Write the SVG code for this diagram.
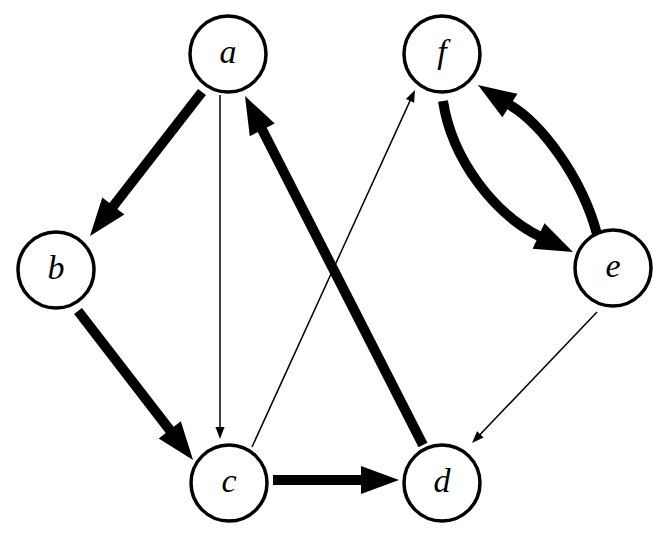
<svg xmlns="http://www.w3.org/2000/svg" xmlns:xlink="http://www.w3.org/1999/xlink" width="663" height="535" viewBox="0 0 663 535">
<style>
.node circle{fill:#fff;stroke:#000;stroke-width:3.5}
.node text{font-family:"Liberation Serif","DejaVu Serif",serif;font-style:italic;font-size:34px;text-anchor:middle;fill:#000}
.thick{fill:none;stroke:#000;stroke-width:10;stroke-linecap:butt}
.thin{fill:none;stroke:#000;stroke-width:1.5;stroke-linecap:butt}
.head{fill:#000;stroke:none}
</style>
<defs>
<path id="hk" d="M0,0 L-38,-14 L-38,14 z"/>
<path id="hn" d="M0,0 L-12,-4.5 L-12,4.5 z"/>
</defs>
<rect width="663" height="535" fill="#fff"/>
<g id="connectors">
<g id="edge-a-b"><line class="thick" x1="202" y1="92" x2="110.9" y2="209.2"/><use class="head" xlink:href="#hk" transform="translate(90,236) rotate(127.9)"/></g>
<g id="edge-b-c"><line class="thick" x1="78" y1="311" x2="172.2" y2="433.1"/><use class="head" xlink:href="#hk" transform="translate(193,460) rotate(52.3)"/></g>
<g id="edge-c-d"><line class="thick" x1="273" y1="480" x2="365" y2="480"/><use class="head" xlink:href="#hk" transform="translate(399,480)"/></g>
<g id="edge-d-a"><line class="thick" x1="423" y1="445" x2="260.4" y2="126.3"/><use class="head" xlink:href="#hk" transform="translate(245,96) rotate(-117)"/></g>
<g id="edge-a-c"><line class="thin" x1="220" y1="95" x2="220" y2="429"/><use class="head" xlink:href="#hn" transform="translate(220,439) rotate(90)"/></g>
<g id="edge-c-f"><line class="thin" x1="252" y1="447" x2="410.8" y2="99.1"/><use class="head" xlink:href="#hn" transform="translate(415,90) rotate(-65.5)"/></g>
<g id="edge-e-d"><line class="thin" x1="597" y1="312" x2="478.9" y2="435.8"/><use class="head" xlink:href="#hn" transform="translate(472,443) rotate(133.7)"/></g>
<g id="edge-f-e"><path class="thick" d="M443,101 C452,160 495,215 541,237"/><use class="head" xlink:href="#hk" transform="translate(573,252) rotate(25)"/></g>
<g id="edge-e-f"><path class="thick" d="M597,234 C582,178 542,124 510,105"/><use class="head" xlink:href="#hk" transform="translate(478,85) rotate(212.8)"/></g>
</g>
<g id="node-a" class="node"><circle cx="228" cy="54" r="38"/><text x="228" y="63">a</text></g>
<g id="node-f" class="node"><circle cx="442" cy="54" r="38"/><text x="442" y="63">f</text></g>
<g id="node-b" class="node"><circle cx="56" cy="270" r="38"/><text x="56" y="279">b</text></g>
<g id="node-e" class="node"><circle cx="613" cy="268" r="38"/><text x="613" y="277">e</text></g>
<g id="node-c" class="node"><circle cx="229" cy="483" r="38"/><text x="229" y="492">c</text></g>
<g id="node-d" class="node"><circle cx="442" cy="483" r="38"/><text x="442" y="492">d</text></g>
</svg>
